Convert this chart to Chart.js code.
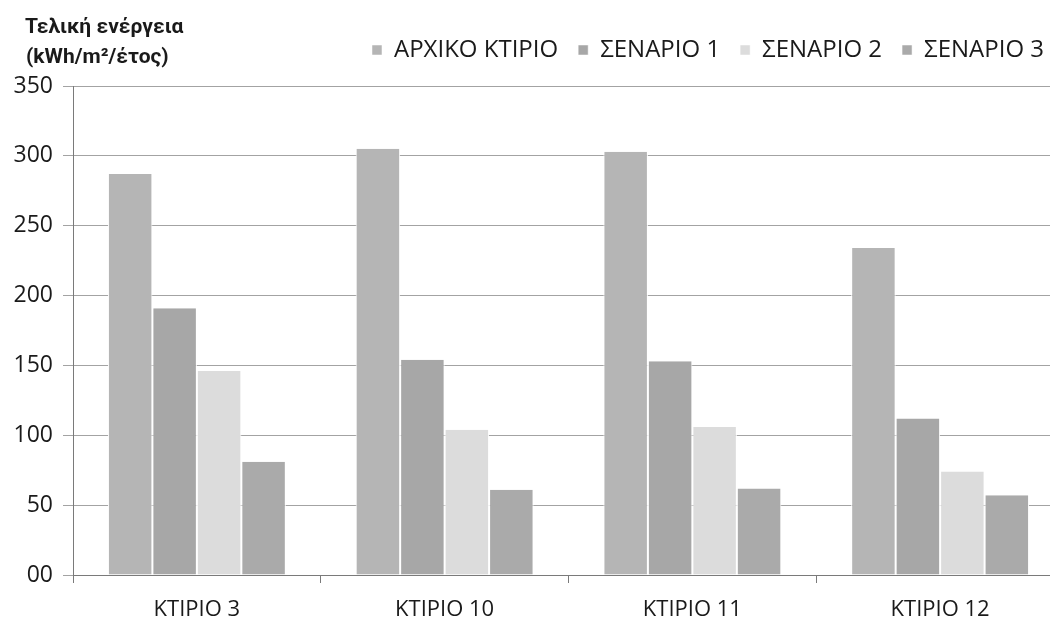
<!DOCTYPE html>
<html lang="el">
<head>
<meta charset="utf-8">
<title>Τελική ενέργεια ανά κτίριο</title>
<script src="https://cdn.jsdelivr.net/npm/chart.js@4.4.1/dist/chart.umd.min.js"></script>
<style>
  html, body { margin: 0; padding: 0; background: #ffffff; overflow: hidden; }
  #wrap { position: relative; width: 1066px; height: 624px; }
</style>
</head>
<body>
<div id="wrap"><canvas id="chart"></canvas></div>
<script>
// Buildings on the x axis
const buildings = ['ΚΤΙΡΙΟ 3', 'ΚΤΙΡΙΟ 10', 'ΚΤΙΡΙΟ 11', 'ΚΤΙΡΙΟ 12'];

// Final energy per scenario (kWh/m²/year)
const seriesNames = ['ΑΡΧΙΚΟ ΚΤΙΡΙΟ', 'ΣΕΝΑΡΙΟ 1', 'ΣΕΝΑΡΙΟ 2', 'ΣΕΝΑΡΙΟ 3'];
const initialBuilding = [287, 305, 303, 234];
const scenario1 = [191, 154, 153, 112];
const scenario2 = [146, 104, 106, 74];
const scenario3 = [81, 61, 62, 57];

// Y axis tick labels (bottom to top)
const yTickLabels = ['00', '50', '100', '150', '200', '250', '300', '350'];

// Axis title
const titleLines = ['Τελική ενέργεια', '(kWh/m²/έτος)'];

const fillColors = ['#b5b5b5', '#a7a7a7', '#dcdcdc', '#aaaaaa'];
const FONT = '"Open Sans", "Noto Sans", sans-serif';
const TITLE_FONT = 'Roboto, "Open Sans", sans-serif';

const seriesValues = [initialBuilding, scenario1, scenario2, scenario3];
const datasets = seriesNames.map((name, i) => ({
  label: name,
  data: seriesValues[i],
  backgroundColor: fillColors[i],
  borderColor: '#ffffff',
  borderWidth: { left: 1, right: 1, top: 0, bottom: 0 },
  borderSkipped: false,
  categoryPercentage: 0.718,
  barPercentage: 1.0
}));

// Two-line unit title at the top-left corner
const cornerTitle = {
  id: 'cornerTitle',
  afterDraw(chart) {
    const ctx = chart.ctx;
    ctx.save();
    ctx.fillStyle = '#1a1a1a';
    ctx.font = 'bold 21px ' + TITLE_FONT;
    ctx.textAlign = 'left';
    ctx.textBaseline = 'alphabetic';
    ctx.fillText(titleLines[0], 25, 33);
    ctx.fillText(titleLines[1], 26, 63);
    ctx.restore();
  }
};

// Extra room under the legend so the plot starts lower
const legendGap = {
  id: 'legendGap',
  beforeInit(chart) {
    const origFit = chart.legend.fit;
    chart.legend.fit = function () {
      origFit.call(this);
      this.height += 14;
    };
  }
};

new Chart(document.getElementById('chart'), {
  type: 'bar',
  data: { labels: buildings, datasets },
  plugins: [cornerTitle, legendGap],
  options: {
    responsive: true,
    maintainAspectRatio: false,
    animation: false,
    layout: { padding: { top: 18, right: 2, left: 0, bottom: 0 } },
    plugins: {
      title: { display: false },
      tooltip: { enabled: false },
      legend: {
        position: 'top',
        align: 'end',
        labels: {
          boxWidth: 10,
          boxHeight: 10,
          padding: 20,
          color: '#1a1a1a',
          font: { family: FONT, size: 24 }
        }
      }
    },
    scales: {
      x: {
        afterFit(scale) { scale.height = 49; },
        border: { display: true, color: '#7a7a7a', width: 1 },
        grid: {
          display: true,
          offset: true,
          drawOnChartArea: false,
          drawTicks: true,
          tickLength: 8,
          color: '#7a7a7a'
        },
        ticks: {
          color: '#1a1a1a',
          padding: 14,
          font: { family: FONT, size: 22 }
        }
      },
      y: {
        min: 0,
        max: 350,
        afterFit(scale) { scale.width = 73; },
        border: { display: true, color: '#7a7a7a', width: 1 },
        grid: {
          color: '#a3a3a3',
          lineWidth: 1,
          drawTicks: true,
          tickLength: 10
        },
        ticks: {
          stepSize: 50,
          padding: 10,
          color: '#1a1a1a',
          font: { family: FONT, size: 23 },
          callback: (value, index) => yTickLabels[index]
        }
      }
    }
  }
});
</script>
</body>
</html>
